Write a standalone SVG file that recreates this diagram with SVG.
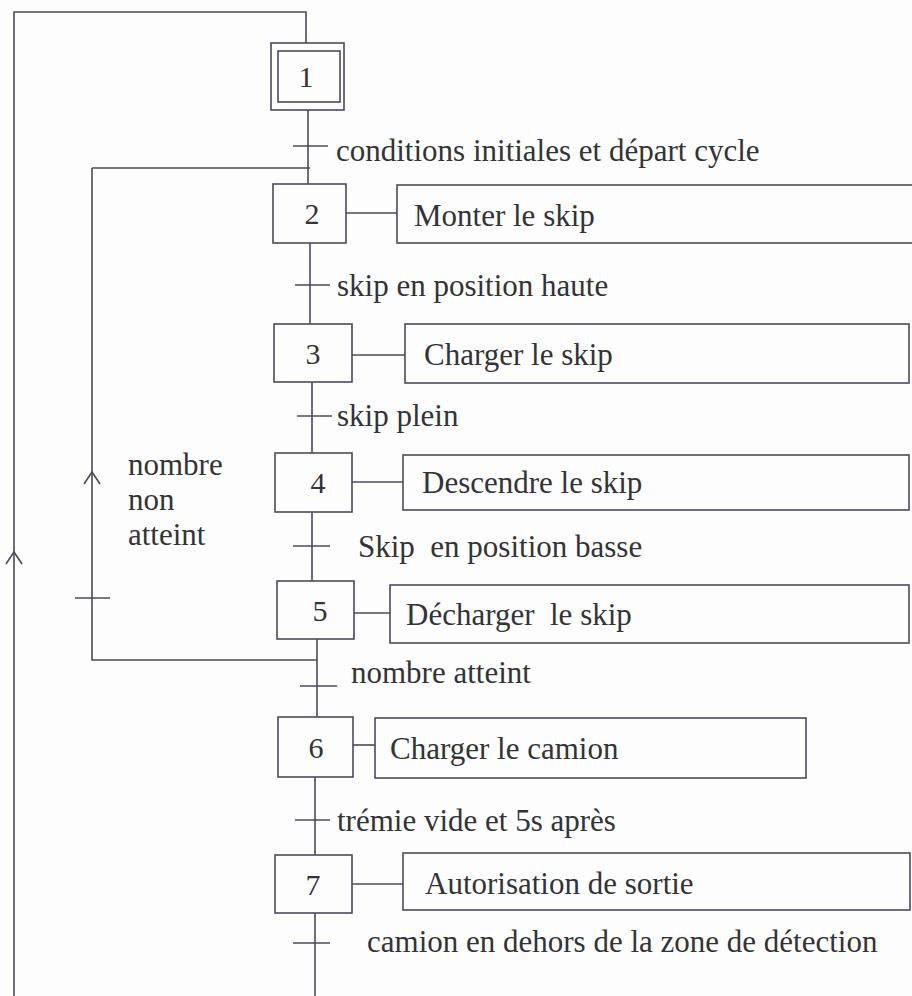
<svg xmlns="http://www.w3.org/2000/svg" width="912" height="996" viewBox="0 0 912 996">
<style>
.ln{fill:none;stroke:#4a4a60;stroke-width:1.6}
.bx{fill:none;stroke:#4a4a60;stroke-width:1.6}
.tx{font-family:"Liberation Serif","DejaVu Serif",serif;font-size:31px;fill:#333338}
.nm{font-family:"Liberation Serif","DejaVu Serif",serif;font-size:30px;fill:#333338;text-anchor:middle}
</style>
<rect width="912" height="996" fill="#fdfdfd"/>
<g id="connectors">
<path class="ln" d="M14,996 V12 H306 V43"/>
<path class="ln" d="M308,110 V184"/>
<path class="ln" d="M92,168 H310"/>
<path class="ln" d="M92,168 V660 H317"/>
<path class="ln" d="M310,243 V324"/>
<path class="ln" d="M312,382 V453"/>
<path class="ln" d="M312,512 V581"/>
<path class="ln" d="M317,639 V717"/>
<path class="ln" d="M315,777 V855"/>
<path class="ln" d="M315,913 V996"/>
<path class="ln" d="M6,564 L14,552 L22,564"/>
<path class="ln" d="M84,484 L92,472 L100,484"/>
<path class="ln" d="M75,598 H110"/>
<path class="ln" d="M293,146 H328"/>
<path class="ln" d="M295,285 H330"/>
<path class="ln" d="M297,416 H332"/>
<path class="ln" d="M293,546 H330"/>
<path class="ln" d="M300,686 H337"/>
<path class="ln" d="M295,820 H330"/>
<path class="ln" d="M293,943 H330"/>
<path class="ln" d="M346,213 H397"/>
<path class="ln" d="M352,355 H405"/>
<path class="ln" d="M352,482 H403"/>
<path class="ln" d="M354,613 H390"/>
<path class="ln" d="M353,745 H375"/>
<path class="ln" d="M352,884 H403"/>
</g>
<g id="step1">
<rect class="bx" x="271" y="43" width="73" height="67"/>
<rect class="bx" x="278" y="51" width="62" height="51"/>
<text class="nm" x="306" y="87">1</text>
</g>
<g id="t1"><text class="tx" x="336" y="161">conditions initiales et départ cycle</text></g>
<g id="step2">
<rect class="bx" x="273" y="184" width="73" height="59"/>
<text class="nm" x="312" y="224">2</text>
</g>
<g id="action2">
<rect class="bx" x="397" y="185" width="520" height="58"/>
<text class="tx" x="414" y="226">Monter le skip</text>
</g>
<g id="t2"><text class="tx" x="337" y="296">skip en position haute</text></g>
<g id="step3">
<rect class="bx" x="274" y="324" width="78" height="58"/>
<text class="nm" x="313" y="364">3</text>
</g>
<g id="action3">
<rect class="bx" x="405" y="324" width="504" height="59"/>
<text class="tx" x="424" y="365">Charger le skip</text>
</g>
<g id="t3"><text class="tx" x="337" y="426">skip plein</text></g>
<g id="step4">
<rect class="bx" x="275" y="453" width="77" height="59"/>
<text class="nm" x="318" y="493">4</text>
</g>
<g id="action4">
<rect class="bx" x="403" y="455" width="506" height="55"/>
<text class="tx" x="422" y="493">Descendre le skip</text>
</g>
<g id="t4"><text class="tx" x="358" y="557" xml:space="preserve">Skip  en position basse</text></g>
<g id="t_loop">
<text class="tx" x="128" y="475">nombre</text>
<text class="tx" x="128" y="510">non</text>
<text class="tx" x="128" y="545">atteint</text>
</g>
<g id="step5">
<rect class="bx" x="277" y="581" width="77" height="58"/>
<text class="nm" x="320" y="621">5</text>
</g>
<g id="action5">
<rect class="bx" x="390" y="585" width="519" height="58"/>
<text class="tx" x="406" y="625" xml:space="preserve">Décharger  le skip</text>
</g>
<g id="t5"><text class="tx" x="351" y="683">nombre atteint</text></g>
<g id="step6">
<rect class="bx" x="278" y="717" width="75" height="60"/>
<text class="nm" x="316" y="758">6</text>
</g>
<g id="action6">
<rect class="bx" x="375" y="718" width="431" height="60"/>
<text class="tx" x="390" y="759">Charger le camion</text>
</g>
<g id="t6"><text class="tx" x="337" y="831">trémie vide et 5s après</text></g>
<g id="step7">
<rect class="bx" x="275" y="855" width="77" height="58"/>
<text class="nm" x="313" y="895">7</text>
</g>
<g id="action7">
<rect class="bx" x="403" y="853" width="507" height="57"/>
<text class="tx" x="425" y="894">Autorisation de sortie</text>
</g>
<g id="t7"><text class="tx" x="367" y="952">camion en dehors de la zone de détection</text></g>
</svg>
